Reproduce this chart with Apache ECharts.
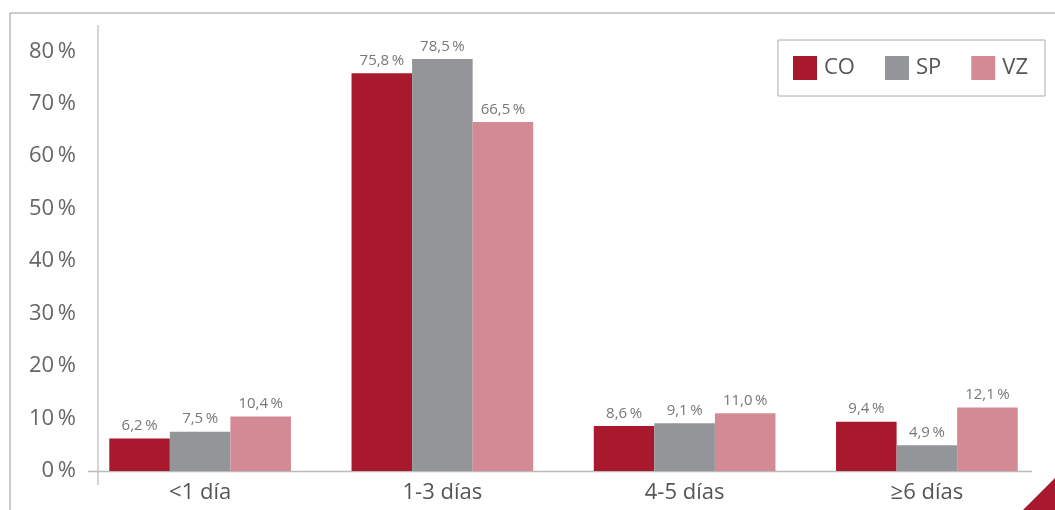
<!DOCTYPE html>
<html><head><meta charset="utf-8">
<script src="https://cdn.jsdelivr.net/npm/echarts@6/dist/echarts.min.js"></script>
<style>html,body{margin:0;padding:0;background:#fff}#c{width:1055px;height:510px}</style>
</head><body><div id="c"></div>
<script>
const categories = ['<1 día', '1-3 días', '4-5 días', '≥6 días'];
const seriesNames = ['CO', 'SP', 'VZ'];
const CO = [6.2, 75.8, 8.6, 9.4];
const SP = [7.5, 78.5, 9.1, 4.9];
const VZ = [10.4, 66.5, 11.0, 12.1];
const yTicks = [0, 10, 20, 30, 40, 50, 60, 70, 80];
const colors = ['#A8192E', '#939598', '#D48A94'];
const FONT = '"Open Sans", sans-serif';
const fmt = v => v.toFixed(1).replace('.', ',') + '\u2009%';

const chart = echarts.init(document.getElementById('c'), null, {renderer: 'canvas'});
const mk = (name, data, i) => ({
  name, type: 'bar', data, barGap: '0%', barCategoryGap: '25%',
  itemStyle: {color: colors[i]},
  label: {show: true, position: 'top', distance: 5, formatter: p => fmt(p.value),
    color: '#777', fontSize: 15, fontFamily: FONT}
});
chart.setOption({
  animation: false,
  textStyle: {fontFamily: FONT},
  grid: {left: 79, right: 7, top: 25, bottom: 39},
  legend: {
    data: seriesNames, left: 778, top: 40, orient: 'horizontal',
    padding: [16, 17, 16, 15], itemWidth: 24, itemHeight: 24, itemGap: 30,
    borderColor: '#aaa', borderWidth: 1, borderRadius: 0, icon: 'rect',
    textStyle: {fontSize: 22, color: '#555', fontFamily: FONT, padding: [0, 0, 0, 2]}
  },
  xAxis: {
    type: 'category', data: categories,
    axisLine: {show: false}, axisTick: {show: false},
    axisLabel: {fontSize: 22, color: '#555', margin: 11, fontFamily: FONT}
  },
  yAxis: {
    type: 'value', min: 0, max: 85, interval: 10,
    splitLine: {show: false}, axisLine: {show: false}, axisTick: {show: false},
    axisLabel: {fontSize: 22, color: '#666', margin: 3, fontFamily: FONT, padding: [5, 0, 0, 0],
      formatter: v => yTicks.includes(v) ? v + '\u2009%' : ''}
  },
  series: [mk('CO', CO, 0), mk('SP', SP, 1), mk('VZ', VZ, 2)],
  graphic: [
    {type: 'line', shape: {x1: 10, y1: 13, x2: 1055, y2: 13}, style: {stroke: '#999', lineWidth: 1}},
    {type: 'line', shape: {x1: 10, y1: 13, x2: 10, y2: 510}, style: {stroke: '#999', lineWidth: 1}},
    {type: 'line', shape: {x1: 98, y1: 25, x2: 98, y2: 485}, style: {stroke: '#aaa', lineWidth: 1}},
    {type: 'line', shape: {x1: 88, y1: 471.5, x2: 1032, y2: 471.5}, style: {stroke: '#bbb', lineWidth: 1.5}, z: 0},
    {type: 'polygon', shape: {points: [[1055, 478], [1055, 510], [1023, 510]]}, style: {fill: '#A8192E'}}
  ]
});
</script></body></html>
